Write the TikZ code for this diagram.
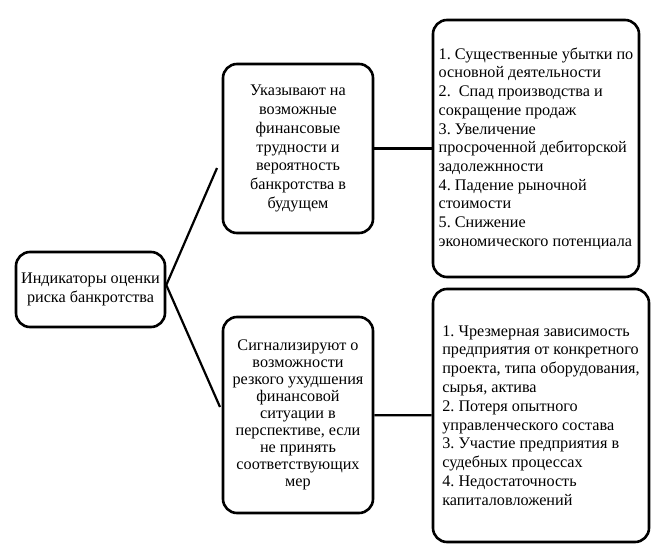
\documentclass[tikz,border=0pt]{standalone}
\usepackage{fontspec}
\setmainfont{Liberation Serif}
\frenchspacing
\usetikzlibrary{positioning}
\begin{document}
\begin{tikzpicture}[x=1pt,y=-1pt,
        box/.style={draw, line width=2.6pt, rounded corners=14pt, inner sep=0pt},
        link/.style={line width=2.2pt}]
                \useasboundingbox (0,0) rectangle (669,549);
                % Define the boxes
                \node[box, minimum width=149pt, minimum height=75pt, align=center,
                    font=\fontsize{16.2}{19}\selectfont] (ind) at (90.5,289.5)
                    {Индикаторы оценки\\риска банкротства};
                \node[box, minimum width=150pt, minimum height=169pt, align=center,
                    font=\fontsize{16.2}{18.7}\selectfont] (warn) at (298,148.5)
                    {Указывают на\\возможные\\финансовые\\трудности и\\вероятность\\банкротства в\\будущем};
                \node[box, minimum width=150pt, minimum height=196pt, align=center,
                    font=\fontsize{16.2}{17}\selectfont] (signal) at (298,415)
                    {Сигнализируют о\\возможности\\резкого ухудшения\\финансовой\\ситуации в\\перспективе, если\\не принять\\соответствующих\\мер};
                \node[box, minimum width=206pt, minimum height=257pt, align=left,
                    font=\fontsize{16.2}{18.7}\selectfont] (warnlist) at (536,148.5)
                    {1. Существенные убытки по\\основной деятельности\\2.\ \ Спад производства и\\сокращение продаж\\3. Увеличение\\просроченной дебиторской\\задолежнности\\4. Падение рыночной\\стоимости\\5. Снижение\\экономического потенциала};
                \node[box, minimum width=216pt, minimum height=253pt, align=left,
                    font=\fontsize{16.2}{18.8}\selectfont] (signallist) at (541,415.5)
                    {1. Чрезмерная зависимость\\предприятия от конкретного\\проекта, типа оборудования,\\сырья, актива\\2. Потеря опытного\\управленческого состава\\3. Участие предприятия в\\судебных процессах\\4. Недостаточность\\капиталовложений};

                % Define the free ends of the fork
                \coordinate (warnend) at (217,168);
                \coordinate (signalend) at (220,407);

                % Draw the lines
                \draw[link] (warnend) -- ([yshift=4.5pt]ind.east) -- (signalend);
                \draw[link] (warn) -- (warnlist);
                \draw[link] (signal) -- (signallist);
\end{tikzpicture}
\end{document}
